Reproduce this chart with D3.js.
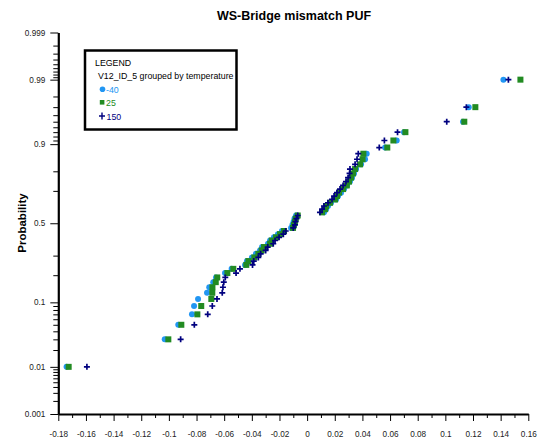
<!DOCTYPE html>
<html>
<head>
<meta charset="utf-8">
<script src="https://cdn.jsdelivr.net/npm/d3@7"></script>
<style>
  html, body { margin: 0; padding: 0; background: #fff; }
  svg { display: block; font-family: "Liberation Sans", Arial, sans-serif; }
</style>
</head>
<body>
<svg id="chart" width="540" height="444"></svg>
<script>
// ---------- data ----------
const title = "WS-Bridge mismatch PUF";
const yLabel = "Probability";
const legendTitle = "LEGEND";
const legendSubtitle = "V12_ID_5 grouped by temperature";
const seriesNames = ["-40", "25", "150"];

// plotting positions (probability of each ranked sample)
const probs = [0.01,0.03,0.05,0.07,0.09,0.11,0.13,0.15,0.17,0.19,
               0.21,0.23,0.25,0.27,0.29,0.31,0.33,0.35,0.37,0.39,
               0.41,0.43,0.45,0.47,0.49,0.51,0.53,0.55,0.57,0.59,
               0.61,0.63,0.65,0.67,0.69,0.71,0.73,0.75,0.77,0.79,
               0.81,0.83,0.85,0.87,0.89,0.91,0.93,0.95,0.97,0.99];

const valsM40 = [-0.1740,-0.1030,-0.0932,-0.0833,-0.0818,-0.0789,-0.0724,-0.0708,-0.0679,-0.0659,
                 -0.0594,-0.0546,-0.0449,-0.0435,-0.0399,-0.0370,-0.0341,-0.0326,-0.0283,-0.0268,
                 -0.0240,-0.0211,-0.0182,-0.0116,-0.0106,-0.0098,-0.0091,-0.0080,0.0122,0.0137,
                 0.0151,0.0173,0.0209,0.0224,0.0245,0.0267,0.0289,0.0310,0.0325,0.0339,
                 0.0354,0.0390,0.0419,0.0431,0.0564,0.0648,0.0701,0.1128,0.1169,0.1420];

const vals25 = [-0.1725,-0.1004,-0.0910,-0.0794,-0.0766,-0.0693,-0.0686,-0.0685,-0.0661,-0.0650,
                -0.0577,-0.0534,-0.0440,-0.0425,-0.0382,-0.0353,-0.0329,-0.0312,-0.0268,-0.0256,
                -0.0225,-0.0196,-0.0167,-0.0102,-0.0095,-0.0088,-0.0082,-0.0068,0.0108,0.0130,
                0.0137,0.0166,0.0202,0.0216,0.0231,0.0260,0.0287,0.0303,0.0318,0.0332,
                0.0347,0.0383,0.0401,0.0407,0.0580,0.0624,0.0711,0.1137,0.1217,0.1543];

const vals150 = [-0.1593,-0.0915,-0.0816,-0.0719,-0.0686,-0.0652,-0.0614,-0.0609,-0.0603,-0.0592,
                 -0.0514,-0.0486,-0.0395,-0.0386,-0.0353,-0.0336,-0.0300,-0.0285,-0.0245,-0.0232,
                 -0.0203,-0.0172,-0.0155,-0.0100,-0.0088,-0.0084,-0.0077,-0.0068,0.0093,0.0108,
                 0.0122,0.0151,0.0180,0.0195,0.0216,0.0238,0.0260,0.0281,0.0296,0.0307,
                 0.0310,0.0347,0.0361,0.0370,0.0522,0.0559,0.0654,0.1010,0.1152,0.1456];

const xTickValues = [-0.18,-0.16,-0.14,-0.12,-0.1,-0.08,-0.06,-0.04,-0.02,0,0.02,0.04,0.06,0.08,0.1,0.12,0.14,0.16];
const xTickLabels = ["-0.18","-0.16","-0.14","-0.12","-0.1","-0.08","-0.06","-0.04","-0.02","0","0.02","0.04","0.06","0.08","0.1","0.12","0.14","0.16"];
const xMinorTicks = [-0.17,-0.15,-0.13,-0.11,-0.09,-0.07,-0.05,-0.03,-0.01,0.01,0.03,0.05,0.07,0.09,0.11,0.13,0.15];

const yTickValues = [0.001,0.01,0.1,0.5,0.9,0.99,0.999];
const yTickLabels = ["0.001","0.01","0.1","0.5","0.9","0.99","0.999"];
const yMinorTicks = [0.002,0.003,0.004,0.005,0.006,0.007,0.008,0.009,
                     0.02,0.03,0.04,0.05,0.06,0.07,0.08,0.09,
                     0.2,0.3,0.7,0.8,
                     0.91,0.92,0.93,0.94,0.95,0.96,0.97,0.98,
                     0.991,0.992,0.993,0.994,0.995,0.996,0.997,0.998];

// ---------- helpers ----------
function probit(p){
  const a=[-3.969683028665376e+01,2.209460984245205e+02,-2.759285104469687e+02,1.383577518672690e+02,-3.066479806614716e+01,2.506628277459239e+00];
  const b=[-5.447609879822406e+01,1.615858368580409e+02,-1.556989798598866e+02,6.680131188771972e+01,-1.328068155288572e+01];
  const c=[-7.784894002430293e-03,-3.223964580411365e-01,-2.400758277161838e+00,-2.549732539343734e+00,4.374664141464968e+00,2.938163982698783e+00];
  const d=[7.784695709041462e-03,3.224671290700398e-01,2.445134137142996e+00,3.754408661907416e+00];
  const pl=0.02425, ph=1-pl;
  let q,r;
  if(p<pl){q=Math.sqrt(-2*Math.log(p));return (((((c[0]*q+c[1])*q+c[2])*q+c[3])*q+c[4])*q+c[5])/((((d[0]*q+d[1])*q+d[2])*q+d[3])*q+1);}
  if(p<=ph){q=p-0.5;r=q*q;return (((((a[0]*r+a[1])*r+a[2])*r+a[3])*r+a[4])*r+a[5])*q/(((((b[0]*r+b[1])*r+b[2])*r+b[3])*r+b[4])*r+1);}
  q=Math.sqrt(-2*Math.log(1-p));return -(((((c[0]*q+c[1])*q+c[2])*q+c[3])*q+c[4])*q+c[5])/((((d[0]*q+d[1])*q+d[2])*q+d[3])*q+1);
}

// probability scale built on a d3 linear scale in z-space
function scaleProbability(){
  const lin = d3.scaleLinear();
  let dom = [0.001, 0.999];
  function s(p){ return lin(probit(p)); }
  s.domain = function(v){ if(!arguments.length) return dom.slice(); dom = v; lin.domain(v.map(probit)); return s; };
  s.range = function(v){ if(!arguments.length) return lin.range(); lin.range(v); return s; };
  s.copy = function(){ return scaleProbability().domain(dom).range(lin.range()); };
  return s;
}

// ---------- chart ----------
const svg = d3.select("#chart");
const x = d3.scaleLinear().domain([-0.18, 0.16]).range([58.3, 528.3]);
const y = scaleProbability().domain([0.001, 0.999]).range([414, 32.5]);

const colBlue = "#2196f3", colGreen = "#228b22", colNavy = "#00007f";
const FONT = "Liberation Sans, Arial, sans-serif";

// title
svg.append("text").attr("x", 294).attr("y", 20).attr("text-anchor", "middle")
  .attr("font-size", 12.5).attr("font-weight", "bold").attr("fill", "#000").text(title);

// y label
svg.append("text").attr("transform", "translate(26,223) rotate(-90)").attr("text-anchor", "middle")
  .attr("font-size", 11.5).attr("font-weight", "bold").attr("fill", "#000").text(yLabel);

// x axis minor
svg.append("g").attr("transform", "translate(0,414)")
  .call(d3.axisBottom(x).tickValues(xMinorTicks).tickSize(4).tickFormat(""))
  .call(g => g.select(".domain").remove())
  .call(g => g.selectAll("line").attr("stroke", "#000").attr("stroke-width", 1));
// x axis major
svg.append("g").attr("transform", "translate(0,414)")
  .call(d3.axisBottom(x).tickValues(xTickValues).tickSize(7).tickSizeOuter(0)
        .tickFormat((d, i) => xTickLabels[i]))
  .call(g => g.select(".domain").attr("stroke", "#000").attr("stroke-width", 2.2))
  .call(g => g.selectAll(".tick line").attr("stroke", "#000").attr("stroke-width", 1))
  .call(g => g.selectAll("text").attr("font-size", 8.2).attr("fill", "#222").attr("y", 23.2).attr("dy", 0)
        .attr("font-family", FONT));

// y axis minor
svg.append("g").attr("transform", "translate(58.3,0)")
  .call(d3.axisLeft(y).tickValues(yMinorTicks).tickSize(5).tickFormat(""))
  .call(g => g.select(".domain").remove())
  .call(g => g.selectAll("line").attr("stroke", "#000").attr("stroke-width", 1));
// y axis major
svg.append("g").attr("transform", "translate(58.3,0)")
  .call(d3.axisLeft(y).tickValues(yTickValues).tickSize(8).tickSizeOuter(0)
        .tickFormat((d, i) => yTickLabels[i]))
  .call(g => g.select(".domain").attr("stroke", "#000").attr("stroke-width", 2.2))
  .call(g => g.selectAll(".tick line").attr("stroke", "#000").attr("stroke-width", 1))
  .call(g => g.selectAll("text").attr("font-size", 8.2).attr("fill", "#222").attr("x", -13)
        .attr("font-family", FONT));

// points
const plot = svg.append("g");
plot.selectAll("circle.m40").data(valsM40).join("circle").attr("class", "m40")
  .attr("cx", d => x(d)).attr("cy", (d, i) => y(probs[i])).attr("r", 3).attr("fill", colBlue);
plot.selectAll("rect.p25").data(vals25).join("rect").attr("class", "p25")
  .attr("x", d => x(d) - 3).attr("y", (d, i) => y(probs[i]) - 3).attr("width", 6).attr("height", 6)
  .attr("fill", colGreen);
plot.selectAll("path.p150").data(vals150).join("path").attr("class", "p150")
  .attr("transform", (d, i) => `translate(${x(d)},${y(probs[i])})`)
  .attr("d", "M-3,0H3M0,-3V3").attr("stroke", colNavy).attr("stroke-width", 1.7).attr("fill", "none");

// legend
const lg = svg.append("g").attr("font-family", FONT);
lg.append("rect").attr("x", 85).attr("y", 50.5).attr("width", 151.5).attr("height", 79)
  .attr("fill", "#fff").attr("stroke", "#000").attr("stroke-width", 2.5);
lg.append("text").attr("x", 95).attr("y", 66).attr("font-size", 8.8).attr("fill", "#000").text(legendTitle);
lg.append("text").attr("x", 98).attr("y", 79).attr("font-size", 8.8).attr("fill", "#000").text(legendSubtitle);
lg.append("circle").attr("cx", 102.5).attr("cy", 89.3).attr("r", 2.8).attr("fill", colBlue);
lg.append("text").attr("x", 106).attr("y", 92.5).attr("font-size", 8.8).attr("fill", colBlue).text(seriesNames[0]);
lg.append("rect").attr("x", 99.8).attr("y", 100).attr("width", 4.6).attr("height", 4.6).attr("fill", colGreen);
lg.append("text").attr("x", 106).attr("y", 106).attr("font-size", 8.8).attr("fill", colGreen).text(seriesNames[1]);
lg.append("path").attr("transform", "translate(102,116)").attr("d", "M-3,0H3M0,-3.5V3.5")
  .attr("stroke", colNavy).attr("stroke-width", 1.4);
lg.append("text").attr("x", 106.5).attr("y", 119.5).attr("font-size", 8.8).attr("fill", colNavy).text(seriesNames[2]);
</script>
</body>
</html>
